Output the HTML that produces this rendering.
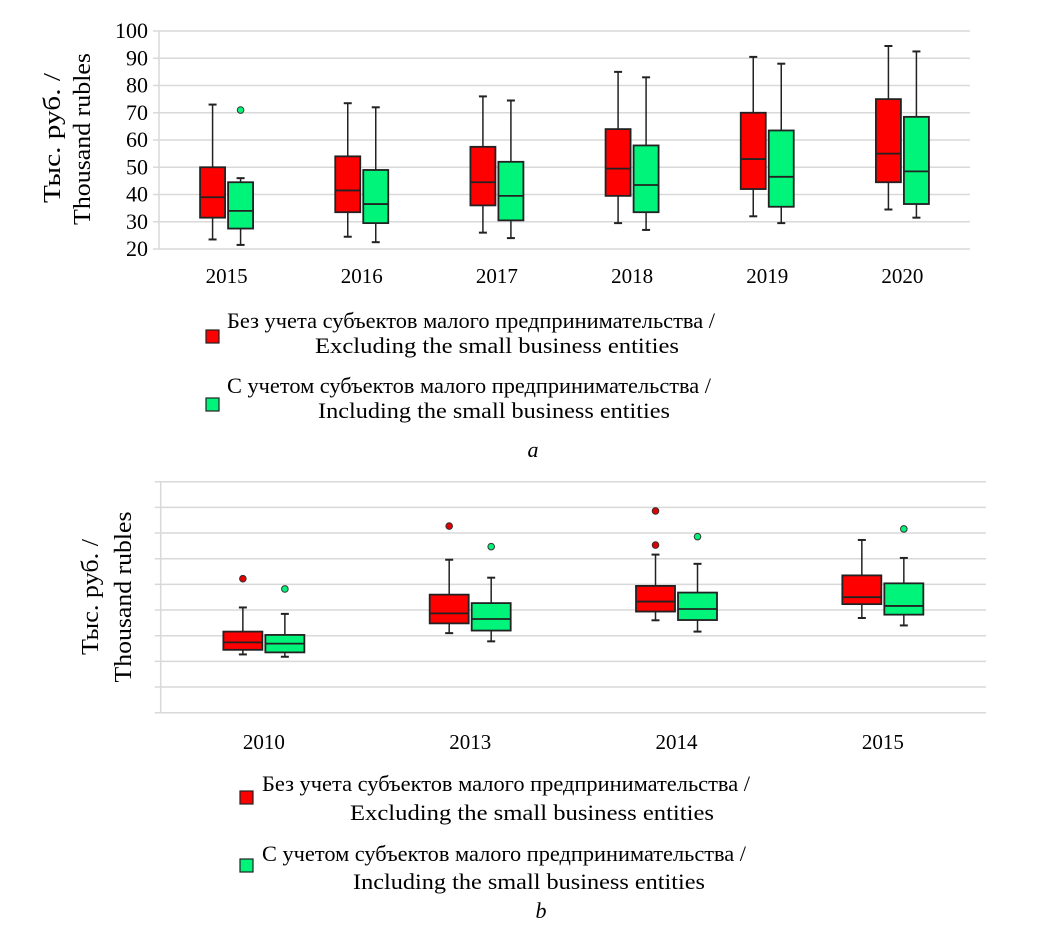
<!DOCTYPE html>
<html><head><meta charset="utf-8"><style>
html,body{margin:0;padding:0;background:#fff;}
svg{display:block;font-family:"Liberation Serif",serif;}
</style></head><body>
<svg id="svg" width="1055" height="932" viewBox="0 0 1055 932" xmlns="http://www.w3.org/2000/svg">
<g id="chartA"></g>
<g id="chartB"></g>
<g font-size="24">
<text transform="translate(60,138) rotate(-90)" text-anchor="middle" textLength="130" lengthAdjust="spacingAndGlyphs">Тыс. руб. /</text>
<text transform="translate(90,139) rotate(-90)" text-anchor="middle" textLength="172" lengthAdjust="spacingAndGlyphs">Thousand rubles</text>
</g>
<g font-size="24">
<text transform="translate(98,597) rotate(-90)" text-anchor="middle" textLength="116" lengthAdjust="spacingAndGlyphs">Тыс. руб. /</text>
<text transform="translate(131,597) rotate(-90)" text-anchor="middle" textLength="171" lengthAdjust="spacingAndGlyphs">Thousand rubles</text>
</g>
<g font-size="22">
<rect x="206" y="330" width="13" height="13" fill="#ff0000" stroke="#222" stroke-width="1.2"/>
<text x="227" y="328" textLength="488" lengthAdjust="spacingAndGlyphs">Без учета субъектов малого предпринимательства /</text>
<text x="315" y="353" textLength="364" lengthAdjust="spacingAndGlyphs">Excluding the small business entities</text>
<rect x="206" y="398" width="13" height="13" fill="#00f47a" stroke="#222" stroke-width="1.2"/>
<text x="227" y="393" textLength="484" lengthAdjust="spacingAndGlyphs">С учетом субъектов малого предпринимательства /</text>
<text x="318" y="418" textLength="352" lengthAdjust="spacingAndGlyphs">Including the small business entities</text>
<text x="533" y="457" font-style="italic" text-anchor="middle">a</text>
</g>
<g font-size="22">
<rect x="240" y="791" width="13" height="13" fill="#ff0000" stroke="#222" stroke-width="1.2"/>
<text x="262" y="791" textLength="488" lengthAdjust="spacingAndGlyphs">Без учета субъектов малого предпринимательства /</text>
<text x="350" y="820" textLength="364" lengthAdjust="spacingAndGlyphs">Excluding the small business entities</text>
<rect x="240" y="859" width="13" height="13" fill="#00f47a" stroke="#222" stroke-width="1.2"/>
<text x="262" y="861" textLength="484" lengthAdjust="spacingAndGlyphs">С учетом субъектов малого предпринимательства /</text>
<text x="353" y="889" textLength="352" lengthAdjust="spacingAndGlyphs">Including the small business entities</text>
<text x="541" y="918" font-style="italic" text-anchor="middle">b</text>
</g>
</svg>
<script>
// Chart a data
const catsA = ["2015","2016","2017","2018","2019","2020"];
const ticksA = [20,30,40,50,60,70,80,90,100];
// [min,q1,median,q3,max]
const redA = [[23.5,31.5,39,50,73],[24.5,33.5,41.5,54,73.5],[26,36,44.5,57.5,76],[29.5,39.5,49.5,64,85],[32,42,53,70,90.5],[34.5,44.5,55,75,94.5]];
const greenA = [[21.5,27.5,34,44.5,46],[22.5,29.5,36.5,49,72],[24,30.5,39.5,52,74.5],[27,33.5,43.5,58,83],[29.5,35.5,46.5,63.5,88],[31.5,36.5,48.5,68.5,92.5]];
const redOutA = [[],[],[],[],[],[]];
const greenOutA = [[71],[],[],[],[],[]];
// Chart b data (no tick labels; units = gridline steps)
const catsB = ["2010","2013","2014","2015"];
const ticksB = [0,1,2,3,4,5,6,7,8,9];
const redB = [[2.27,2.45,2.74,3.16,4.1],[3.1,3.48,3.87,4.6,5.96],[3.6,3.94,4.33,4.94,6.16],[3.69,4.23,4.5,5.35,6.73]];
const greenB = [[2.18,2.35,2.69,3.03,3.85],[2.78,3.2,3.65,4.27,5.26],[3.16,3.61,4.04,4.68,5.8],[3.4,3.82,4.16,5.04,6.03]];
const redOutB = [[5.22],[7.27],[7.86,6.53],[]];
const greenOutB = [[4.82],[6.47],[6.86],[7.16]];

const NS="http://www.w3.org/2000/svg";
function mk(parent,tag,attrs){const e=document.createElementNS(NS,tag);for(const k in attrs)e.setAttribute(k,attrs[k]);parent.appendChild(e);return e;}

function draw(g,o){
  const y=v=>o.y0-(v-o.vmin)*(o.y0-o.y1)/(o.vmax-o.vmin);
  const band=(o.x1-o.x0)/o.cats.length;
  const xc=i=>o.x0+band*(i+0.5);
  o.ticks.forEach(t=>{
    const l=mk(g,'line',{x1:o.x0-6,x2:o.x1,y1:y(t),y2:y(t),stroke:'#d9d9d9','stroke-width':1.5});
    
    
    if(o.labels){
      const tx=mk(g,'text',{x:148,y:y(t)+7,'text-anchor':'end','font-size':22});
      tx.textContent=t;
      
      
    }
  });
  const ax=mk(g,'line',{x1:o.x0,x2:o.x0,y1:o.y1,y2:o.y0,stroke:'#d9d9d9','stroke-width':1.5});
  
  
  o.cats.forEach((c,i)=>{
    const tx=mk(g,'text',{x:xc(i),y:o.labY,'text-anchor':'middle','font-size':21});
    tx.textContent=c;
    
    
    [[o.red,o.redOut,'#ff0000',-1],[o.green,o.greenOut,'#00f47a',1]].forEach(([d,out,fill,side])=>{
      const s=d[i];
      const left=side<0?xc(i)-o.gap/2-o.bw:xc(i)+o.gap/2;
      const cx=left+o.bw/2;
      const bg=mk(g,'g',{});
      
      
      mk(bg,'line',{x1:cx,x2:cx,y1:y(s[0]),y2:y(s[1]),stroke:'#222','stroke-width':1.5});
      mk(bg,'line',{x1:cx,x2:cx,y1:y(s[3]),y2:y(s[4]),stroke:'#222','stroke-width':1.5});
      mk(bg,'line',{x1:cx-4,x2:cx+4,y1:y(s[0]),y2:y(s[0]),stroke:'#222','stroke-width':2});
      mk(bg,'line',{x1:cx-4,x2:cx+4,y1:y(s[4]),y2:y(s[4]),stroke:'#222','stroke-width':2});
      mk(bg,'rect',{x:left,y:y(s[3]),width:o.bw,height:y(s[1])-y(s[3]),fill:fill,stroke:'#222','stroke-width':1.8});
      mk(bg,'line',{x1:left,x2:left+o.bw,y1:y(s[2]),y2:y(s[2]),stroke:'#222','stroke-width':1.8});
      out[i].forEach(v=>{
        const p=mk(g,'circle',{cx:cx,cy:y(v),r:3.3,fill:side<0?'#e00000':'#00f47a',stroke:'#333','stroke-width':1});
        
        
      });
    });
  });
}
draw(document.getElementById('chartA'),{cats:catsA,ticks:ticksA,red:redA,green:greenA,redOut:redOutA,greenOut:greenOutA,vmin:20,vmax:100,y0:249,y1:31,x0:159,x1:970,bw:25,gap:3,labels:true,labY:283});
draw(document.getElementById('chartB'),{cats:catsB,ticks:ticksB,red:redB,green:greenB,redOut:redOutB,greenOut:greenOutB,vmin:0,vmax:9,y0:712.7,y1:481.7,x0:160.7,x1:986,bw:39,gap:3,labels:false,labY:749});
</script>
</body></html>
